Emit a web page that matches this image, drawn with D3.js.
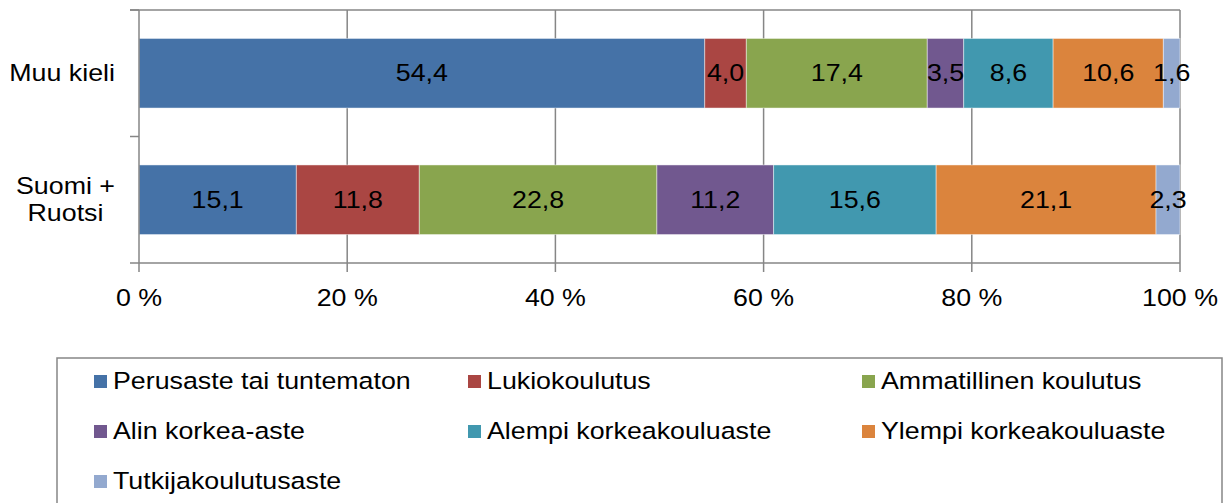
<!DOCTYPE html>
<html>
<head>
<meta charset="utf-8">
<script src="https://cdn.jsdelivr.net/npm/d3@7"></script>
<style>
  body { margin: 0; background: #fff; }
  text { font-family: "Liberation Sans", Arial, sans-serif; fill: #000; }
</style>
</head>
<body>
<div id="chart"></div>
<script>
// Categories (top to bottom) and series
const categories = ['Muu kieli', 'Suomi +\nRuotsi'];
const seriesNames = ['Perusaste tai tuntematon', 'Lukiokoulutus', 'Ammatillinen koulutus',
  'Alin korkea-aste', 'Alempi korkeakouluaste', 'Ylempi korkeakouluaste', 'Tutkijakoulutusaste'];
const muuKieli = [54.4, 4.0, 17.4, 3.5, 8.6, 10.6, 1.6];
const suomiRuotsi = [15.1, 11.8, 22.8, 11.2, 15.6, 21.1, 2.3];
const xTicks = [0, 20, 40, 60, 80, 100];
const colors = ['#4572A7', '#AA4643', '#89A54E', '#71588F', '#4198AF', '#DB843D', '#93A9CF'];

const width = 1228, height = 503;
const FS = 23.5, SX = 1.14; // font size and horizontal stretch of the original text

const svg = d3.select('#chart').append('svg')
  .attr('width', width).attr('height', height);

// place a stretched text at (px, py)
function txt(sel, px, py, anchor) {
  return sel.attr('transform', `translate(${px},${py}) scale(${SX},1)`)
    .attr('dy', '0.35em').attr('font-size', FS).attr('text-anchor', anchor || 'start');
}

const x = d3.scaleLinear().domain([0, 100]).range([139, 1180]);
const y = d3.scaleBand().domain(categories).range([10, 263]).paddingInner(0.45).paddingOuter(0.225);

// build rows normalised to 100 %
const rows = [muuKieli, suomiRuotsi].map((vals, i) => {
  const total = d3.sum(vals);
  let acc = 0;
  return vals.map((v, j) => {
    const seg = { cat: categories[i], s: j, v: v, x0: acc / total * 100 };
    acc += v;
    seg.x1 = acc / total * 100;
    return seg;
  });
});

const grid = '#868686';

// top border line
svg.append('line').attr('x1', 130).attr('x2', x(100)).attr('y1', 10).attr('y2', 10)
  .attr('stroke', grid).attr('stroke-width', 1.5);

// vertical gridlines + ticks
svg.selectAll('.grid').data(xTicks.slice(1)).enter().append('line')
  .attr('x1', d => x(d)).attr('x2', d => x(d))
  .attr('y1', 10).attr('y2', 272)
  .attr('stroke', grid).attr('stroke-width', 1.5);

// bars
const segs = rows.flat();
svg.selectAll('.bar').data(segs).enter().append('rect')
  .attr('x', d => x(d.x0))
  .attr('width', d => x(d.x1) - x(d.x0))
  .attr('y', d => y(d.cat))
  .attr('height', y.bandwidth())
  .attr('fill', d => colors[d.s])
  .attr('stroke', 'rgba(255,255,255,0.45)')
  .attr('stroke-width', 1);

// value labels
svg.selectAll('.lbl').data(segs).enter().append('text')
  .each(function (d) {
    txt(d3.select(this), (x(d.x0) + x(d.x1)) / 2, y(d.cat) + y.bandwidth() / 2, 'middle');
  })
  .text(d => d.v.toFixed(1).replace('.', ','));

// y axis line and ticks
svg.append('line').attr('x1', x(0)).attr('x2', x(0)).attr('y1', 10).attr('y2', 272)
  .attr('stroke', grid).attr('stroke-width', 1.5);
const yTickPos = [10, (y.range()[0] + y.range()[1]) / 2, 263];
svg.selectAll('.ytick').data(yTickPos).enter().append('line')
  .attr('x1', 130).attr('x2', x(0)).attr('y1', d => d).attr('y2', d => d)
  .attr('stroke', grid).attr('stroke-width', 1.5);

// x axis line
svg.append('line').attr('x1', x(0)).attr('x2', x(100)).attr('y1', 263).attr('y2', 263)
  .attr('stroke', grid).attr('stroke-width', 1.5);

// x tick labels
svg.selectAll('.xl').data(xTicks).enter().append('text')
  .each(function (d) { txt(d3.select(this), x(d), 298, 'middle'); })
  .text(d => d + ' %');

// category labels
categories.forEach(c => {
  const lines = c.split('\n');
  const cy = y(c) + y.bandwidth() / 2;
  const ts = lines.map((l, i) => svg.append('text').text(l));
  const maxW = d3.max(ts, t => t.attr('font-size', FS).node().getComputedTextLength()) * SX;
  ts.forEach((t, i) => txt(t, 115 - maxW / 2, cy + (i - (lines.length - 1) / 2) * 27, 'middle'));
});

// legend
svg.append('rect').attr('x', 57).attr('y', 358).attr('width', 1165).attr('height', 160)
  .attr('fill', 'none').attr('stroke', grid).attr('stroke-width', 1.5);
const legCols = [94, 468, 862];
const legRows = [381, 431, 481];
const leg = svg.selectAll('.leg').data(seriesNames).enter().append('g')
  .attr('transform', (d, i) => `translate(${legCols[i % 3]},${legRows[Math.floor(i / 3)]})`);
leg.append('rect').attr('x', 0).attr('y', -6).attr('width', 13).attr('height', 13)
  .attr('fill', (d, i) => colors[i]);
leg.append('text').each(function () { txt(d3.select(this), 19, 0, 'start'); }).text(d => d);
</script>
</body>
</html>
